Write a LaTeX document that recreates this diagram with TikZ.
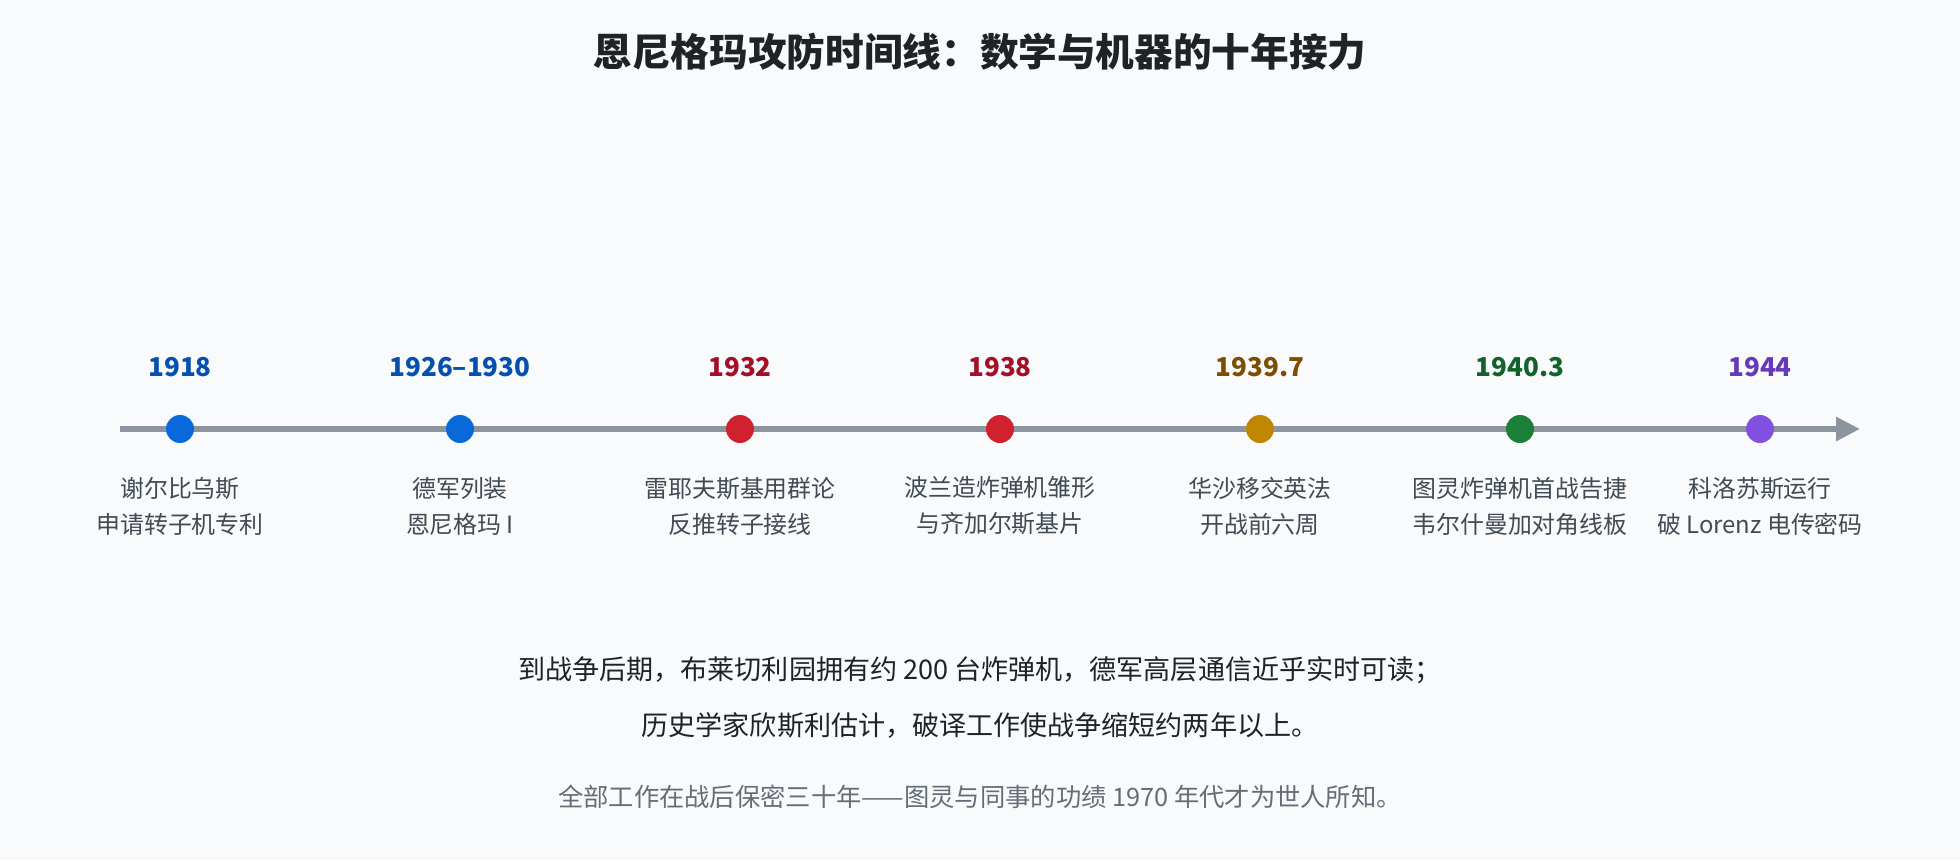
\documentclass[tikz,border=0pt]{standalone}
\usepackage{fontspec}
\setmainfont{Noto Sans CJK SC}
\usetikzlibrary{arrows.meta}
\definecolor{bgcol}{HTML}{F8FAFC}
\definecolor{axiscol}{HTML}{8C959F}
\definecolor{titlecol}{HTML}{1F2328}
\definecolor{labelcol}{HTML}{424A53}
\definecolor{notecol}{HTML}{656D76}
\definecolor{bluedot}{HTML}{0969DA}
\definecolor{bluetxt}{HTML}{0550AE}
\definecolor{reddot}{HTML}{CF222E}
\definecolor{redtxt}{HTML}{A40E26}
\definecolor{golddot}{HTML}{BF8700}
\definecolor{goldtxt}{HTML}{7D4E00}
\definecolor{greendot}{HTML}{1A7F37}
\definecolor{greentxt}{HTML}{116329}
\definecolor{purpledot}{HTML}{8250DF}
\definecolor{purpletxt}{HTML}{6639BA}
\tikzset{
    yearlbl/.style={font=\bfseries\fontsize{7.4}{9}\selectfont},
    eventlbl/.style={align=center,text=labelcol,font=\fontsize{6.8}{10.24}\selectfont},
    evdot/.style={circle,inner sep=0pt,minimum size=0.28cm},
    sumtxt/.style={text=titlecol,font=\fontsize{7.7}{9}\selectfont}
}
\begin{document}
\begin{tikzpicture}
                \fill[bgcol] (0,0) rectangle (19.6,-8.6);
                \useasboundingbox (0,0) rectangle (19.6,-8.6);
                \node[text=titlecol,font=\bfseries\fontsize{11.0}{13}\selectfont] (title) at (9.8,-0.52)
                {恩尼格玛攻防时间线：数学与机器的十年接力};
                \coordinate (axisstart) at (1.2,-4.29);
                \coordinate (axisend) at (18.6,-4.29);
                \draw[axiscol,line width=1.7pt,-{Triangle[length=0.24cm,width=0.23cm]}] (axisstart) -- (axisend);
                \begin{scope}
                \node[evdot,fill=bluedot] (d1918) at (1.8,-4.29) {};
                \node[evdot,fill=bluedot] (d1926) at (4.6,-4.29) {};
                \node[evdot,fill=reddot] (d1932) at (7.4,-4.29) {};
                \node[evdot,fill=reddot] (d1938) at (10.0,-4.29) {};
                \node[evdot,fill=golddot] (d1939) at (12.6,-4.29) {};
                \node[evdot,fill=greendot] (d1940) at (15.2,-4.29) {};
                \node[evdot,fill=purpledot] (d1944) at (17.6,-4.29) {};
                \end{scope}
                \begin{scope}[yearlbl]
                \node[text=bluetxt] (y1918) at (1.8,-3.67) {1918};
                \node[text=bluetxt] (y1926) at (4.6,-3.67) {1926–1930};
                \node[text=redtxt] (y1932) at (7.4,-3.67) {1932};
                \node[text=redtxt] (y1938) at (10.0,-3.67) {1938};
                \node[text=goldtxt] (y1939) at (12.6,-3.67) {1939.7};
                \node[text=greentxt] (y1940) at (15.2,-3.67) {1940.3};
                \node[text=purpletxt] (y1944) at (17.6,-3.67) {1944};
                \end{scope}
                \begin{scope}[eventlbl]
                \node[eventlbl] (t1918) at (1.8,-5.06) {谢尔比乌斯\\申请转子机专利};
                \node[eventlbl] (t1926) at (4.6,-5.06) {德军列装\\恩尼格玛 I};
                \node[eventlbl] (t1932) at (7.4,-5.06) {雷耶夫斯基用群论\\反推转子接线};
                \node[eventlbl] (t1938) at (10.0,-5.06) {波兰造炸弹机雏形\\与齐加尔斯基片};
                \node[eventlbl] (t1939) at (12.6,-5.06) {华沙移交英法\\开战前六周};
                \node[eventlbl] (t1940) at (15.2,-5.06) {图灵炸弹机首战告捷\\韦尔什曼加对角线板};
                \node[eventlbl] (t1944) at (17.6,-5.06) {科洛苏斯运行\\破 Lorenz 电传密码};
                \end{scope}
                \node[sumtxt] (sum1) at (9.8,-6.70) {到战争后期，布莱切利园拥有约 200 台炸弹机，德军高层通信近乎实时可读；};
                \node[sumtxt] (sum2) at (9.8,-7.25) {历史学家欣斯利估计，破译工作使战争缩短约两年以上。};
                \node[text=notecol,font=\fontsize{7.2}{9}\selectfont] (note) at (9.8,-7.97)
                {全部工作在战后保密三十年——图灵与同事的功绩 1970 年代才为世人所知。};
            \end{tikzpicture}
\end{document}
